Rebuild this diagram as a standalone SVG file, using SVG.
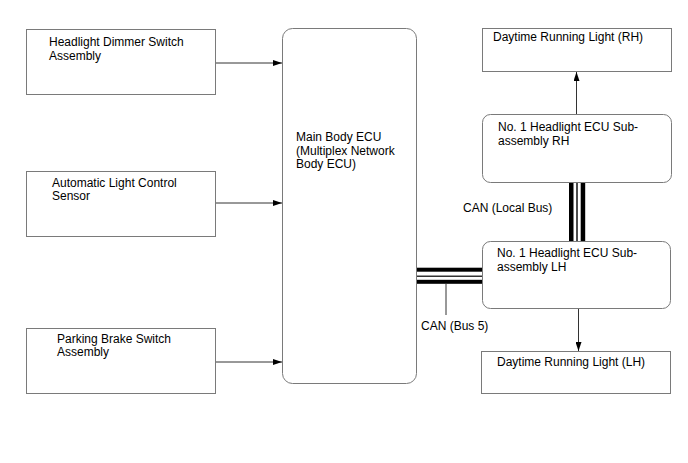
<svg xmlns="http://www.w3.org/2000/svg" width="688" height="463" viewBox="0 0 688 463">
<style>
.box{fill:#fff;stroke:#7a7a7a;stroke-width:1}
.t{font-family:"Liberation Sans",Arial,sans-serif;font-size:12px;fill:#000}
.ln{stroke:#333;stroke-width:1;fill:none}
</style>
<defs>
<marker id="ah" markerWidth="9" markerHeight="6" refX="9" refY="3" orient="auto" markerUnits="userSpaceOnUse">
<path d="M0,0 L9,3 L0,6 Z" fill="#000"/>
</marker>
</defs>
<rect width="688" height="463" fill="#fff"/>
<g id="dimmer">
<rect class="box" x="26.5" y="29.5" width="189" height="65"/>
<text class="t" x="49" y="46">Headlight Dimmer Switch</text>
<text class="t" x="49" y="59.5">Assembly</text>
</g>
<g id="autolight">
<rect class="box" x="26.5" y="171.5" width="189" height="65"/>
<text class="t" x="52" y="187">Automatic Light Control</text>
<text class="t" x="52" y="200">Sensor</text>
</g>
<g id="parking">
<rect class="box" x="26.5" y="328.5" width="189" height="65"/>
<text class="t" x="57" y="343">Parking Brake Switch</text>
<text class="t" x="57" y="356">Assembly</text>
</g>
<g id="mainecu">
<rect class="box" x="282.5" y="28.5" width="134" height="355" rx="10" ry="10"/>
<text class="t" x="296" y="141">Main Body ECU</text>
<text class="t" x="296" y="154.5">(Multiplex Network</text>
<text class="t" x="296" y="168">Body ECU)</text>
</g>
<g id="drl-rh">
<rect class="box" x="482.5" y="28.5" width="189" height="43"/>
<text class="t" x="493" y="41">Daytime Running Light (RH)</text>
</g>
<g id="ecu-rh">
<rect class="box" x="482.5" y="114.5" width="189" height="68" rx="8" ry="8"/>
<text class="t" x="498" y="131">No. 1 Headlight ECU Sub-</text>
<text class="t" x="498" y="144.5">assembly RH</text>
</g>
<g id="ecu-lh">
<rect class="box" x="482.5" y="241.5" width="188" height="67" rx="8" ry="8"/>
<text class="t" x="497" y="257">No. 1 Headlight ECU Sub-</text>
<text class="t" x="497" y="270.5">assembly LH</text>
</g>
<g id="drl-lh">
<rect class="box" x="481.5" y="351.5" width="189" height="42"/>
<text class="t" x="497" y="366">Daytime Running Light (LH)</text>
</g>
<g id="connectors">
<line class="ln" x1="216" y1="63" x2="282" y2="63" marker-end="url(#ah)"/>
<line class="ln" x1="216" y1="203" x2="282" y2="203" marker-end="url(#ah)"/>
<line class="ln" x1="216" y1="362" x2="282" y2="362" marker-end="url(#ah)"/>
<line class="ln" x1="576.5" y1="114" x2="576.5" y2="72" marker-end="url(#ah)"/>
<line class="ln" x1="578.5" y1="309" x2="578.5" y2="351" marker-end="url(#ah)"/>
<g id="localbus" fill="#000">
<rect x="569" y="183" width="4.5" height="58"/>
<rect x="576.3" y="183" width="1.4" height="58"/>
<rect x="580.7" y="183" width="4.5" height="58"/>
</g>
<g id="bus5" fill="#000">
<rect x="417" y="267.7" width="65" height="4"/>
<rect x="417" y="275.6" width="65" height="1.2"/>
<rect x="417" y="279.8" width="65" height="4"/>
</g>
<line class="ln" x1="446" y1="283" x2="446" y2="315" stroke="#000"/>
<text class="t" x="463" y="212">CAN (Local Bus)</text>
<text class="t" x="421" y="330">CAN (Bus 5)</text>
</g>
</svg>
